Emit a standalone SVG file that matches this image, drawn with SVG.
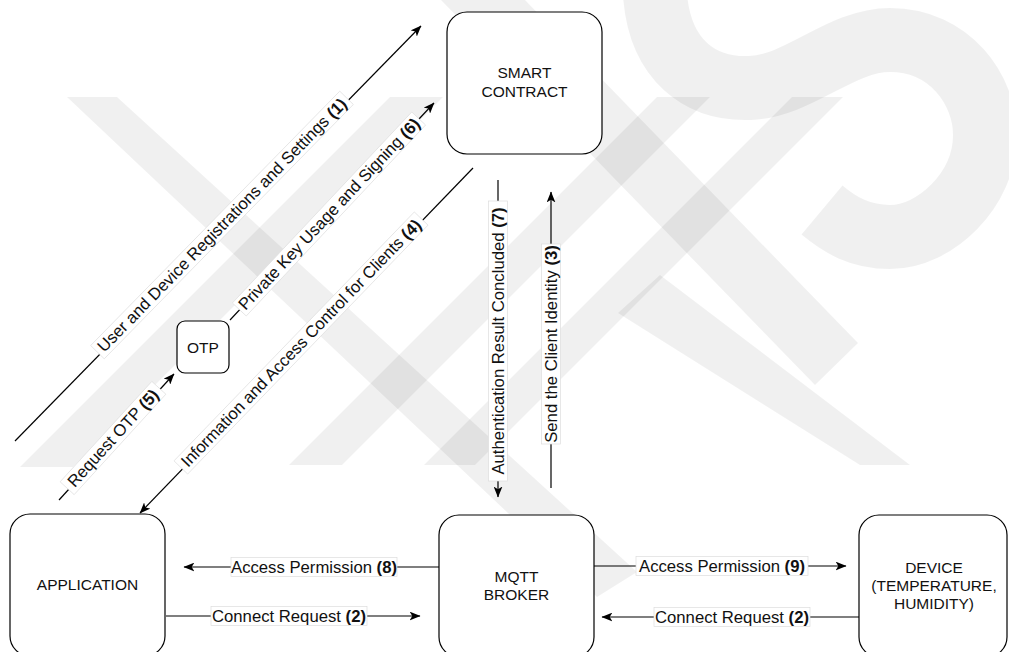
<svg xmlns="http://www.w3.org/2000/svg" width="1009" height="652" viewBox="0 0 1009 652">
  <defs>
    <style>
      .node rect { fill: #ffffff; stroke: #000000; stroke-width: 1.2; }
      .node text { font-family: "Liberation Sans", Arial, sans-serif; font-size: 15.5px; fill: #111111; text-anchor: middle; }
      .edge line { stroke: #000000; stroke-width: 1.2; fill: none; }
      .lbl rect { fill: #ffffff; stroke: #dddddd; stroke-width: 0.7; }
      .lbl text { font-family: "Liberation Sans", Arial, sans-serif; font-size: 16.7px; fill: #111111; text-anchor: middle; dominant-baseline: central; }
      .lbl tspan { font-weight: bold; }
      .wm { fill: none; stroke: #000000; stroke-opacity: 0.06; }
      .wmf { fill: #000000; fill-opacity: 0.06; stroke: none; }
    </style>
    <marker id="arrow" viewBox="0 0 10 8" markerWidth="11" markerHeight="9" refX="9.5" refY="4" orient="auto" markerUnits="userSpaceOnUse">
      <path d="M0,0 L10,4 L0,8 L2.5,4 Z" fill="#000000"/>
    </marker>
  </defs>

  <rect width="1009" height="652" fill="#ffffff"/>

  <!-- background emblem -->
  <g id="emblem">
    <path class="wm" stroke-width="64" d="M655,-5 C660,60 700,90 750,88 C800,86 840,40 890,40 C950,40 985,90 985,135 C985,190 935,237 890,237 C860,237 840,225 822,210"/>
    <polygon class="wmf" points="67,97 117,97 637,572 597,597"/>
    <polygon class="wmf" points="390,97 443,97 73,467 20,467"/>
    <polygon class="wmf" points="525,0 858,343 815,385 441,0"/>
    <polygon class="wmf" points="660,275 910,465 860,465 618,313"/>
    <polygon class="wmf" points="792,97 843,97 475,465 424,465"/>
    <polygon class="wmf" points="657,97 710,97 342,465 289,465"/>
  </g>

  <!-- connectors -->
  <g id="connectors">
    <g class="edge">
      <line x1="15" y1="441" x2="421" y2="26" marker-end="url(#arrow)"/>
      <line x1="230" y1="320" x2="434" y2="103" marker-end="url(#arrow)"/>
      <line x1="473" y1="168" x2="140" y2="513" marker-end="url(#arrow)"/>
      <line x1="59" y1="500" x2="174" y2="374" marker-end="url(#arrow)"/>
      <line x1="498" y1="180" x2="498" y2="497" marker-end="url(#arrow)"/>
      <line x1="551" y1="488" x2="551" y2="192" marker-end="url(#arrow)"/>
      <line x1="439" y1="567" x2="184" y2="567" marker-end="url(#arrow)"/>
      <line x1="166" y1="616" x2="420" y2="616" marker-end="url(#arrow)"/>
      <line x1="594" y1="566" x2="846" y2="566" marker-end="url(#arrow)"/>
      <line x1="859" y1="617" x2="602" y2="617" marker-end="url(#arrow)"/>
    </g>

    <g class="lbl" transform="translate(222,225) rotate(-45.6)">
      <rect x="-178" y="-9.5" width="356" height="19"/>
      <text x="0" y="0">User and Device Registrations and Settings <tspan>(1)</tspan></text>
    </g>
    <g class="lbl" transform="translate(329,214) rotate(-46.8)">
      <rect x="-131" y="-9.5" width="262" height="19"/>
      <text x="0" y="0">Private Key Usage and Signing <tspan>(6)</tspan></text>
    </g>
    <g class="lbl" transform="translate(301,343) rotate(-46)">
      <rect x="-173" y="-9.5" width="346" height="19"/>
      <text x="0" y="0">Information and Access Control for Clients <tspan>(4)</tspan></text>
    </g>
    <g class="lbl" transform="translate(113,438) rotate(-47.6)">
      <rect x="-68" y="-9.5" width="136" height="19"/>
      <text x="0" y="0">Request OTP <tspan>(5)</tspan></text>
    </g>
    <g class="lbl" transform="translate(498,341) rotate(-90)">
      <rect x="-140" y="-9.5" width="280" height="19"/>
      <text x="0" y="0">Authentication Result Concluded <tspan>(7)</tspan></text>
    </g>
    <g class="lbl" transform="translate(551,344) rotate(-90)">
      <rect x="-100" y="-9.5" width="200" height="19"/>
      <text x="0" y="0">Send the Client Identity <tspan>(3)</tspan></text>
    </g>
    <g class="lbl" transform="translate(314,567)">
      <rect x="-83" y="-9.5" width="166" height="19"/>
      <text x="0" y="0">Access Permission <tspan>(8)</tspan></text>
    </g>
    <g class="lbl" transform="translate(289,616)">
      <rect x="-78" y="-9.5" width="156" height="19"/>
      <text x="0" y="0">Connect Request <tspan>(2)</tspan></text>
    </g>
    <g class="lbl" transform="translate(722,566)">
      <rect x="-86" y="-9.5" width="172" height="19"/>
      <text x="0" y="0">Access Permission <tspan>(9)</tspan></text>
    </g>
    <g class="lbl" transform="translate(732,617)">
      <rect x="-78" y="-9.5" width="156" height="19"/>
      <text x="0" y="0">Connect Request <tspan>(2)</tspan></text>
    </g>
  </g>

  <!-- nodes -->
  <g id="smart-contract" class="node">
    <rect x="447" y="12" width="155" height="142" rx="20"/>
    <text x="524.5" y="78">SMART</text>
    <text x="524.5" y="97">CONTRACT</text>
  </g>
  <g id="otp" class="node">
    <rect x="177" y="321" width="52" height="52" rx="8"/>
    <text x="203" y="353">OTP</text>
  </g>
  <g id="application" class="node">
    <rect x="10" y="514" width="155" height="142" rx="20"/>
    <text x="87.5" y="590">APPLICATION</text>
  </g>
  <g id="mqtt-broker" class="node">
    <rect x="439" y="515" width="155" height="142" rx="20"/>
    <text x="516.5" y="582">MQTT</text>
    <text x="516.5" y="600">BROKER</text>
  </g>
  <g id="device" class="node">
    <rect x="859" y="515" width="148" height="142" rx="20"/>
    <text x="934" y="573">DEVICE</text>
    <text x="934" y="591">(TEMPERATURE,</text>
    <text x="934" y="609">HUMIDITY)</text>
  </g>
</svg>
